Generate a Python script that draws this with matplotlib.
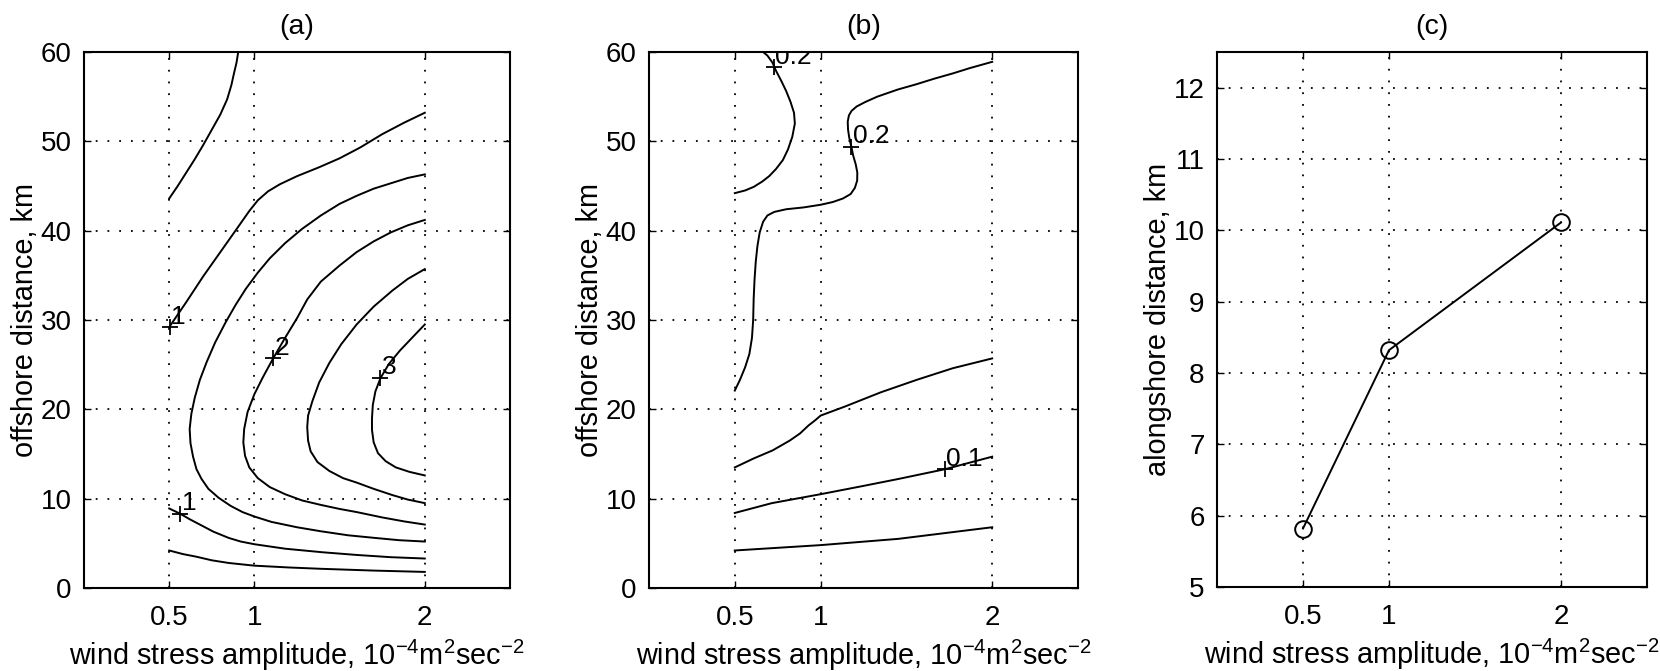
import matplotlib
matplotlib.use("Agg")
import matplotlib.pyplot as plt

plt.rcParams['font.family'] = ['Liberation Sans', 'DejaVu Sans']
plt.rcParams['mathtext.fontset'] = 'custom'
plt.rcParams['mathtext.rm'] = 'Liberation Sans'
plt.rcParams['mathtext.it'] = 'Liberation Sans:italic'
plt.rcParams['mathtext.bf'] = 'Liberation Sans:bold'

# ---------------- data ----------------
x_ticks = [0.5, 1, 2]
x_tick_labels = ['0.5', '1', '2']
xlabel = 'wind stress amplitude, 10$^{-4}$m$^{2}$sec$^{-2}$'

# panel (a) contour lines (wind stress, offshore km)
a1_x = [0.50, 0.55, 0.60, 0.65, 0.70, 0.75, 0.80, 0.84, 0.865, 0.88, 0.895, 0.905]
a1_y = [43.6, 45.0, 46.5, 48.0, 49.6, 51.3, 53.0, 54.7, 56.3, 57.6, 58.8, 60.0]
a2_x = [0.50, 0.60, 0.70, 0.80, 0.90, 0.97, 1.02, 1.08, 1.15, 1.25, 1.38, 1.50, 1.62, 1.75, 1.88, 2.00]
a2_y = [29.2, 32.0, 34.9, 37.6, 40.3, 42.2, 43.4, 44.4, 45.2, 46.1, 47.1, 48.1, 49.3, 50.8, 52.1, 53.2]
c1_x = [2.00, 1.90, 1.80, 1.70, 1.60, 1.50, 1.39, 1.28, 1.18, 1.09, 1.02, 0.95, 0.89, 0.83, 0.77,
        0.72, 0.68, 0.65, 0.63, 0.62, 0.625, 0.64, 0.66, 0.69, 0.73, 0.79, 0.86, 0.93, 1.00,
        1.10, 1.25, 1.39, 1.55, 1.71, 1.85, 2.00]
c1_y = [46.3, 45.9, 45.3, 44.7, 43.9, 43.0, 41.7, 40.2, 38.6, 36.9, 35.3, 33.5, 31.7, 29.7, 27.5,
        25.3, 23.3, 21.3, 19.5, 17.8, 16.2, 14.7, 13.3, 12.2, 11.1, 10.1, 9.2, 8.5, 8.0,
        7.4, 6.8, 6.35, 5.9, 5.6, 5.35, 5.2]
c2_x = [2.00, 1.90, 1.80, 1.70, 1.60, 1.50, 1.39, 1.31, 1.25, 1.18, 1.11, 1.05, 1.00, 0.96, 0.94,
        0.935, 0.945, 0.97, 1.02, 1.09, 1.18, 1.28, 1.39, 1.50, 1.60, 1.75, 1.88, 2.00]
c2_y = [41.2, 40.6, 39.8, 38.8, 37.6, 36.1, 34.3, 32.3, 30.2, 28.0, 25.7, 23.6, 21.7, 19.7, 17.8,
        16.3, 14.8, 13.5, 12.3, 11.3, 10.5, 9.8, 9.3, 8.85, 8.5, 7.9, 7.45, 7.1]
c3_x = [2.00, 1.90, 1.81, 1.70, 1.60, 1.51, 1.44, 1.38, 1.34, 1.315, 1.31, 1.315, 1.33, 1.37,
        1.44, 1.52, 1.60, 1.70, 1.81, 1.90, 2.00]
c3_y = [35.7, 34.6, 33.3, 31.5, 29.5, 27.3, 25.2, 23.0, 20.9, 19.3, 18.0, 16.5, 15.3, 14.1,
        13.1, 12.3, 11.8, 11.1, 10.4, 9.9, 9.5]
c4_x = [2.00, 1.93, 1.855, 1.79, 1.74, 1.71, 1.695, 1.69, 1.69, 1.70, 1.725, 1.77, 1.83, 1.91, 2.00]
c4_y = [29.5, 28.1, 26.6, 25.1, 23.5, 22.0, 20.5, 19.0, 17.7, 16.3, 15.1, 14.2, 13.5, 13.0, 12.6]
d1_x = [0.50, 0.566, 0.62, 0.68, 0.76, 0.85, 0.92, 1.00, 1.18, 1.40, 1.60, 1.80, 2.00]
d1_y = [8.9, 8.3, 7.7, 7.1, 6.3, 5.6, 5.2, 4.9, 4.4, 4.0, 3.7, 3.45, 3.3]
d0_x = [0.50, 0.58, 0.66, 0.75, 0.85, 1.00, 1.20, 1.39, 1.70, 2.00]
d0_y = [4.2, 3.8, 3.5, 3.1, 2.8, 2.5, 2.3, 2.15, 1.95, 1.8]
a_lines = [(a1_x, a1_y), (a2_x, a2_y), (c1_x, c1_y), (c2_x, c2_y),
           (c3_x, c3_y), (c4_x, c4_y), (d1_x, d1_y), (d0_x, d0_y)]
a_label_x = [0.503, 1.111, 1.74, 0.566]
a_label_y = [29.2, 25.7, 23.5, 8.3]
a_label_txt = ['1', '2', '3', '1']

# panel (b) contour lines
b1_x = [0.50, 0.56, 0.61, 0.66, 0.70, 0.74, 0.78, 0.81, 0.835, 0.85, 0.845, 0.825, 0.80, 0.77,
        0.74, 0.72, 0.69, 0.665]
b1_y = [44.2, 44.5, 44.9, 45.5, 46.1, 46.9, 47.9, 49.1, 50.5, 52.0, 53.2, 54.4, 55.6, 56.8,
        57.9, 58.8, 59.6, 60.0]
b2_x = [0.50, 0.53, 0.56, 0.585, 0.60, 0.607, 0.61, 0.615, 0.622, 0.632, 0.645, 0.665, 0.69, 0.73,
        0.80, 0.90, 1.00, 1.07, 1.13, 1.175, 1.20, 1.213, 1.214, 1.205, 1.19, 1.179, 1.167, 1.16,
        1.158, 1.165, 1.18, 1.21, 1.26, 1.33, 1.45, 1.56, 1.66, 1.77, 1.87, 2.00]
b2_y = [22.1, 23.3, 24.7, 26.2, 28.0, 30.0, 32.4, 34.5, 36.5, 38.3, 39.8, 41.0, 41.7, 42.1,
        42.4, 42.6, 42.9, 43.2, 43.6, 44.1, 44.8, 45.6, 46.5, 47.4, 48.4, 49.4, 50.4, 51.3,
        52.2, 52.9, 53.4, 53.9, 54.4, 55.0, 55.8, 56.4, 57.0, 57.6, 58.2, 58.9]
b3_x = [0.50, 0.61, 0.72, 0.82, 0.88, 0.93, 0.97, 1.00, 1.14, 1.35, 1.56, 1.77, 2.00]
b3_y = [13.5, 14.5, 15.4, 16.5, 17.3, 18.2, 18.8, 19.3, 20.3, 21.9, 23.3, 24.6, 25.7]
b4_x = [0.50, 0.716, 1.00, 1.242, 1.452, 1.725, 2.00]
b4_y = [8.4, 9.5, 10.5, 11.4, 12.2, 13.3, 14.7]
b5_x = [0.50, 1.00, 1.452, 2.00]
b5_y = [4.2, 4.8, 5.5, 6.8]
b_lines = [(b1_x, b1_y), (b2_x, b2_y), (b3_x, b3_y), (b4_x, b4_y), (b5_x, b5_y)]
b_label_x = [0.727, 1.179, 1.725]
b_label_y = [58.3, 49.4, 13.3]
b_label_txt = ['0.2', '0.2', '0.1']

# panel (c)
c_x = [0.5, 1.0, 2.0]
c_y = [5.82, 8.32, 10.11]

# ---------------- figure ----------------
W, H = 1660, 671
fig = plt.figure(figsize=(W / 100, H / 100), dpi=100)

def px_axes(left, right, top, bottom):
    return fig.add_axes([left / W, (H - bottom) / H, (right - left) / W, (bottom - top) / H])

FS = 20
FSL = 20.8
LW = 1.4

def style(ax, yticks, ylim, ylabel, title):
    ax.set_xlim(0, 2.5)
    ax.set_ylim(*ylim)
    ax.set_xticks(x_ticks)
    ax.set_xticklabels(x_tick_labels)
    ax.set_yticks(yticks)
    ax.tick_params(direction='in', length=5, width=1, top=True, right=True,
                   labelsize=FS, pad=9)
    ax.tick_params(axis='x', pad=12)
    ax.grid(True, color='k', linestyle=(0, (1, 5.5)), linewidth=1.3)
    for s in ax.spines.values():
        s.set_linewidth(1.5)
    ax.set_xlabel(xlabel, fontsize=FSL, labelpad=5)
    ax.set_ylabel(ylabel, fontsize=FSL, labelpad=1)
    ax.set_title(title, fontsize=20.5, pad=13)

# (a)
ax_a = px_axes(84, 510, 52, 588)
for xs, ys in a_lines:
    ax_a.plot(xs, ys, color='k', lw=LW)
ax_a.plot(a_label_x, a_label_y, linestyle='none', marker='+', ms=12, mew=1.3, color='k')
for lx, ly, t in zip(a_label_x, a_label_y, a_label_txt):
    ax_a.annotate(t, (lx, ly), xytext=(1, -1), textcoords='offset points',
                  ha='left', va='bottom', fontsize=FS - 1)
style(ax_a, [0, 10, 20, 30, 40, 50, 60], (0, 60), 'offshore distance, km', '(a)')

# (b)
ax_b = px_axes(649, 1078, 52, 588)
for xs, ys in b_lines:
    ax_b.plot(xs, ys, color='k', lw=LW)
ax_b.plot(b_label_x, b_label_y, linestyle='none', marker='+', ms=12, mew=1.3, color='k')
for lx, ly, t in zip(b_label_x, b_label_y, b_label_txt):
    ax_b.annotate(t, (lx, ly), xytext=(1, -1), textcoords='offset points',
                  ha='left', va='bottom', fontsize=FS - 1, annotation_clip=False, clip_on=True)
style(ax_b, [0, 10, 20, 30, 40, 50, 60], (0, 60), 'offshore distance, km', '(b)')

# (c)
ax_c = px_axes(1217, 1647, 52, 587)
ax_c.plot(c_x, c_y, color='k', lw=LW, marker='o', ms=12, mfc='none', mec='k', mew=1.4)
style(ax_c, [5, 6, 7, 8, 9, 10, 11, 12], (5, 12.5), 'alongshore distance, km', '(c)')

fig.savefig('out.png', dpi=100, facecolor='white')
